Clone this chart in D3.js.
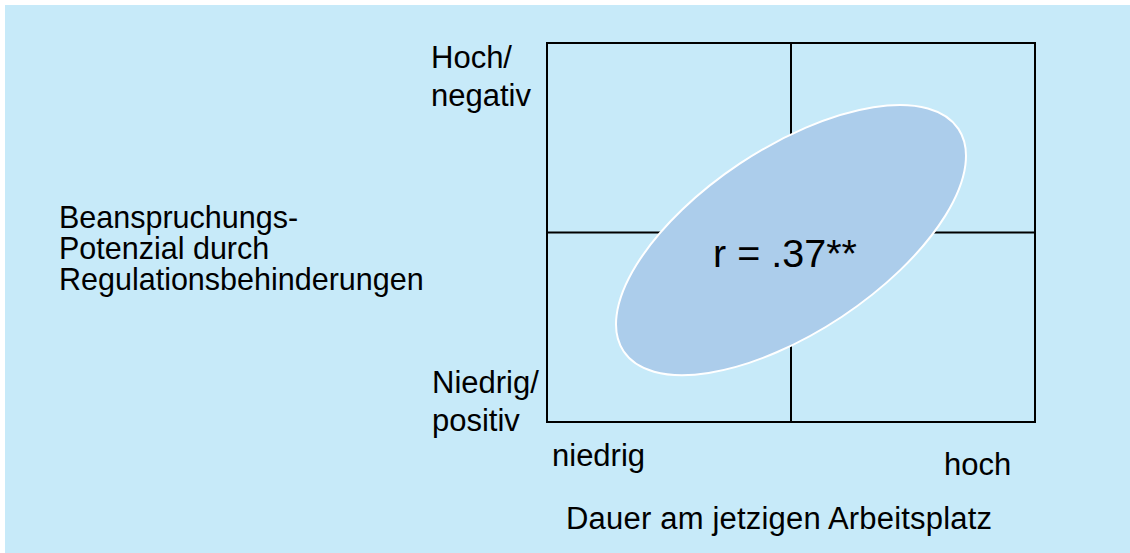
<!DOCTYPE html>
<html lang="de">
<head>
    <meta charset="UTF-8">
    <title>Beanspruchungs-Potenzial vs. Dauer am Arbeitsplatz</title>
    <style>
        html, body { margin: 0; padding: 0; background: #ffffff; }
        svg { display: block; font-family: "Liberation Sans", Arial, sans-serif; }
    </style>
</head>
<body>
    <script src="https://cdn.jsdelivr.net/npm/d3@7"></script>
    <script>
        // data
        const xCategories = ["niedrig", "hoch"];
        const yCategories = [["Niedrig/", "positiv"], ["Hoch/", "negativ"]];
        const xTitle = "Dauer am jetzigen Arbeitsplatz";
        const yTitle = ["Beanspruchungs-", "Potenzial durch", "Regulationsbehinderungen"];
        const correlation = [{ r: 0.37, sig: "**", cx: 1.0, cy: 0.96 }];

        const width = 1130, height = 553;
        const box = { left: 547, right: 1035, top: 43, bottom: 422 };
        const fontSize = 31;

        const svg = d3.select("body").append("svg")
            .attr("width", width)
            .attr("height", height);

        // panel background
        svg.append("rect")
            .attr("x", 5).attr("y", 5)
            .attr("width", width - 5).attr("height", height - 5)
            .attr("fill", "#c7eaf9");

        const x = d3.scaleLinear().domain([0, 2]).range([box.left, box.right]);
        const y = d3.scaleLinear().domain([0, 2]).range([box.bottom, box.top]);

        // quadrant grid
        const g = svg.append("g").attr("stroke", "#000").attr("stroke-width", 2).attr("fill", "none");
        g.append("line").attr("x1", x(1)).attr("x2", x(1)).attr("y1", y(0)).attr("y2", y(2));
        g.append("line").attr("x1", x(0)).attr("x2", x(2)).attr("y1", y(1)).attr("y2", y(1));
        g.append("rect")
            .attr("x", x(0)).attr("y", y(2))
            .attr("width", x(2) - x(0)).attr("height", y(0) - y(2));

        // correlation ellipse
        svg.selectAll("ellipse.corr")
            .data(correlation)
            .join("ellipse")
            .attr("class", "corr")
            .attr("cx", 0).attr("cy", 0)
            .attr("rx", 201).attr("ry", 92)
            .attr("transform", d => `translate(${x(d.cx)},${y(d.cy)}) rotate(-33.6)`)
            .attr("fill", "#accdeb")
            .attr("stroke", "#ffffff")
            .attr("stroke-width", 2);

        svg.selectAll("text.corr")
            .data(correlation)
            .join("text")
            .attr("class", "corr")
            .attr("x", d => x(d.cx) - 6)
            .attr("y", 267)
            .attr("text-anchor", "middle")
            .attr("font-size", 39.5)
            .attr("fill", "#000")
            .text(d => "r = " + d3.format(".2f")(d.r).replace(/^0/, "") + d.sig);

        // y category labels
        const yPos = [{ x: 432, y: 393 }, { x: 431, y: 68 }];
        const yLab = svg.append("g").attr("font-size", fontSize).attr("fill", "#000");
        yCategories.forEach((lines, i) => {
            const t = yLab.append("text").attr("x", yPos[i].x).attr("y", yPos[i].y);
            t.selectAll("tspan").data(lines).join("tspan")
                .attr("x", yPos[i].x)
                .attr("dy", (d, j) => j === 0 ? 0 : 37.5)
                .text(d => d);
        });

        // x category labels
        const xPos = [{ x: 552, y: 466 }, { x: 944, y: 475 }];
        svg.append("g").attr("font-size", fontSize).attr("fill", "#000")
            .selectAll("text").data(xCategories).join("text")
            .attr("x", (d, i) => xPos[i].x)
            .attr("y", (d, i) => xPos[i].y)
            .text(d => d);

        // axis titles
        svg.append("text")
            .attr("x", 566).attr("y", 529)
            .attr("font-size", fontSize).attr("fill", "#000")
            .attr("textLength", 426)
            .text(xTitle);

        // y title, one text per line
        svg.append("g")
            .attr("font-size", 30.5).attr("fill", "#000")
            .selectAll("text").data(yTitle).join("text")
            .attr("x", 59)
            .attr("y", (d, i) => 228 + i * 31)
            .text(d => d);
    </script>
</body>
</html>
